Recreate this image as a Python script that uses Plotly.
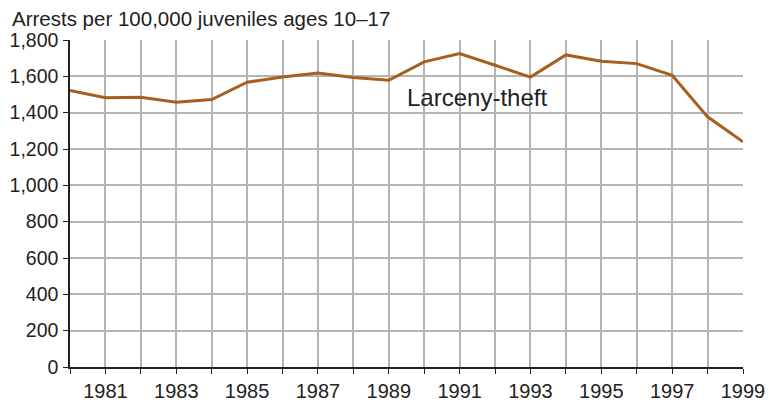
import plotly.graph_objects as go

# Juvenile larceny-theft arrest rate
years = list(range(1980, 2000))
rate = [1522, 1482, 1485, 1457, 1472, 1568, 1596, 1618, 1593, 1578,
        1680, 1725, 1661, 1596, 1718, 1683, 1670, 1606, 1377, 1240]

y_ticks = list(range(0, 1801, 200))
y_labels = [f"{v:,}" for v in y_ticks]
x_ticks = list(range(1981, 2000, 2))

series_label = "Larceny-theft"
y_title = "Arrests per 100,000 juveniles ages 10\u201317"

font = "Liberation Sans, Arial, sans-serif"

fig = go.Figure()
fig.add_trace(go.Scatter(
    x=years, y=rate, mode="lines",
    line=dict(color="#a85f1e", width=3),
    hoverinfo="x+y", showlegend=False,
))

fig.add_annotation(
    x=1991.5, y=1486, text=series_label, showarrow=False,
    font=dict(family=font, size=24, color="#222"),
)
fig.add_annotation(
    xref="paper", yref="paper", x=-0.089, y=1.0, yshift=22,
    xanchor="left", yanchor="middle", text=y_title, showarrow=False,
    font=dict(family=font, size=20.5, color="#222"),
)

# page body has an 8px margin, so the figure is sized/offset to land on the reference
fig.update_layout(
    width=770, height=394,
    margin=dict(l=62, r=35, t=32, b=35),
    paper_bgcolor="white", plot_bgcolor="white",
    font=dict(family=font, size=20, color="#222"),
    xaxis=dict(
        range=[1980, 1999], tickvals=x_ticks,
        showgrid=False, zeroline=False, automargin=False,
        showline=True, linecolor="#222", linewidth=1.5,
        ticks="outside", ticklen=5, tickcolor="#222",
        minor=dict(dtick=1, tick0=1980, showgrid=True, gridcolor="#b4b4b4",
                   gridwidth=1.6, ticks="outside", ticklen=5, tickcolor="#222"),
        fixedrange=True,
    ),
    yaxis=dict(
        range=[0, 1800], tickvals=y_ticks, ticktext=y_labels,
        showgrid=True, gridcolor="#b4b4b4", gridwidth=1.6,
        zeroline=False, automargin=False,
        showline=True, linecolor="#222", linewidth=1.5,
        ticks="outside", ticklen=5, tickcolor="#222",
        tickfont=dict(size=19.5), ticklabelstandoff=1,
        fixedrange=True,
    ),
)

fig.write_html("out.html")
